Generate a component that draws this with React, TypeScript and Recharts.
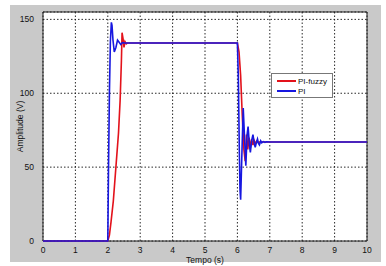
import React from 'react';
import { LineChart, Line, XAxis, YAxis, CartesianGrid, ReferenceArea } from 'recharts';

// time (s) and amplitude (V)
const fuzzyTime = [0, 2.0, 2.05, 2.1, 2.17, 2.25, 2.33, 2.38, 2.42, 2.44, 2.47, 2.5, 2.53, 2.57, 2.6, 6.0, 6.05, 6.1, 6.15, 6.2, 6.24, 6.28, 6.32, 6.36, 6.4, 6.44, 6.48, 6.52, 6.56, 6.6, 6.65, 6.7, 6.8, 10];
const fuzzyValues = [0, 0, 4, 13, 27, 50, 73, 95, 122, 141, 137, 131, 135, 133.5, 134, 134, 128, 112, 85, 62, 54, 72, 62, 70, 63, 69, 65, 68, 66, 67.5, 66.6, 67.2, 67, 67];

const piTime = [0, 2.0, 2.02, 2.05, 2.08, 2.11, 2.13, 2.16, 2.2, 2.25, 2.3, 2.35, 2.4, 2.45, 2.5, 6.0, 6.03, 6.06, 6.08, 6.1, 6.14, 6.18, 6.22, 6.26, 6.3, 6.33, 6.37, 6.4, 6.44, 6.48, 6.52, 6.55, 6.59, 6.62, 6.65, 6.68, 6.72, 6.75, 6.8, 6.85, 6.9, 7.0, 10];
const piValues = [0, 0, 45, 100, 135, 148, 146, 136, 128, 131, 136, 134.5, 133, 134.3, 134, 134, 110, 60, 35, 28, 60, 90, 70, 51, 72, 77.5, 65, 60, 68, 72, 66, 63.5, 67, 69, 66, 65, 67.8, 66.5, 67.3, 66.8, 67.2, 67, 67];

const xTicks = [0, 1, 2, 3, 4, 5, 6, 7, 8, 9, 10];
const yTicks = [0, 50, 100, 150];

const fuzzyData = fuzzyTime.map((t, i) => ({ t, v: fuzzyValues[i] }));
const piData = piTime.map((t, i) => ({ t, v: piValues[i] }));

const RED = '#e3121b';
const BLUE = '#1717e0';
const font = '"Liberation Sans", Arial, sans-serif';

const series = [
  { name: 'PI-fuzzy', data: fuzzyData, color: RED },
  { name: 'PI', data: piData, color: BLUE },
];

function LegendBox() {
  return (
    <div style={{ position: 'absolute', left: 271, top: 73, background: '#fff', border: '1px solid #777', width: 62, height: 25, boxSizing: 'border-box', padding: '2px 0 0 5px', fontFamily: font, fontSize: 8, color: '#111' }}>
      {series.map((s) => (
        <div key={s.name} style={{ display: 'flex', alignItems: 'center', height: 10 }}>
          <span style={{ display: 'inline-block', width: 19, height: 1.5, background: s.color, marginRight: 2 }} />
          <span>{s.name}</span>
        </div>
      ))}
    </div>
  );
}

export default function App() {
  const tickStyle = { fontSize: 8.5, fill: '#111', fontFamily: font };
  return (
    <div style={{ position: 'absolute', left: 0, top: 0, width: 386, height: 266, background: '#fff' }}>
      <div style={{ position: 'absolute', left: 10, top: 5, width: 371, height: 257, background: '#c9c9c9' }} />
      <div style={{ position: 'absolute', left: 43, top: 12, width: 324, height: 229, background: '#fff' }} />
      <LineChart width={386} height={266} margin={{ top: 12, right: 19, bottom: 0, left: 0 }} style={{ position: 'absolute', left: 0, top: 0 }}>
        <CartesianGrid stroke="#111" strokeDasharray="1.5 2" strokeWidth={0.9} />
        <XAxis
          dataKey="t"
          type="number"
          domain={[0, 10]}
          ticks={xTicks}
          height={25}
          tickLine={false}
          axisLine={false}
          tickMargin={0}
          tick={tickStyle}
          allowDuplicatedCategory={false}
          label={{ value: 'Tempo (s)', position: 'insideBottom', offset: 3, ...tickStyle }}
        />
        <YAxis
          type="number"
          domain={[0, 155]}
          ticks={yTicks}
          width={43}
          tickLine={false}
          axisLine={false}
          tickMargin={3}
          tick={tickStyle}
          label={{ value: 'Amplitude (V)', angle: -90, position: 'center', dx: -2, ...tickStyle }}
        />
        <ReferenceArea x1={0} x2={10} y1={0} y2={155} fill="none" stroke="#222" strokeWidth={1} />
        {series.map((s) => (
          <Line key={s.name} data={s.data} dataKey="v" name={s.name} type="linear" stroke={s.color} strokeWidth={1.6} dot={false} isAnimationActive={false} />
        ))}
      </LineChart>
      <LegendBox />
    </div>
  );
}
